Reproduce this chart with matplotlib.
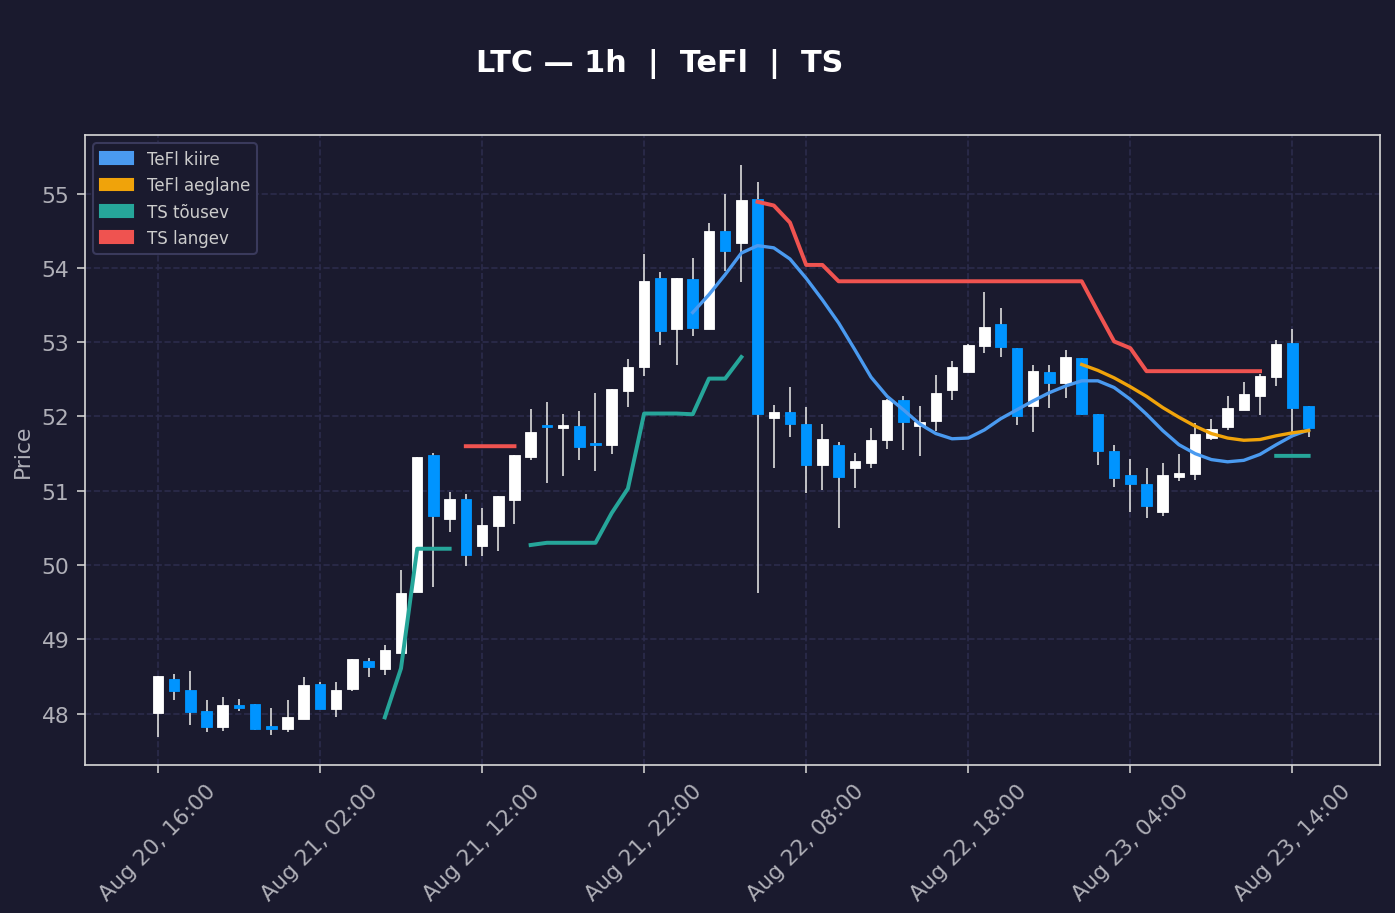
import numpy as np
import pandas as pd
import matplotlib
matplotlib.use("Agg")
import matplotlib.pyplot as plt
import matplotlib.dates as mdates
from matplotlib.patches import Patch

# hourly LTC candles, Aug 20 16:00 -> Aug 23 15:00
times = pd.date_range("2024-08-20 16:00", periods=72, freq="h")

opens = [48.01, 48.47, 48.32, 48.04, 47.82, 48.11, 48.13, 47.84, 47.79, 47.93,
         48.40, 48.06, 48.33, 48.71, 48.60, 48.82, 49.64, 51.48, 50.62, 50.89,
         50.26, 50.53, 50.88, 51.46, 51.88, 51.84, 51.87, 51.64, 51.62, 52.34,
         52.67, 53.86, 53.18, 53.85, 53.18, 54.50, 54.34, 54.93, 51.98, 52.06,
         51.90, 51.35, 51.62, 51.30, 51.38, 51.69, 52.22, 51.87, 51.94, 52.36,
         52.60, 52.95, 53.25, 52.92, 52.14, 52.60, 52.45, 52.79, 52.04, 51.54,
         51.21, 51.09, 50.72, 51.18, 51.22, 51.71, 51.86, 52.09, 52.27, 52.53,
         52.99, 52.14]
closes = [48.51, 48.31, 48.02, 47.82, 48.12, 48.07, 47.80, 47.79, 47.96, 48.38,
          48.06, 48.32, 48.73, 48.63, 48.86, 49.62, 51.46, 50.66, 50.89, 50.13,
          50.54, 50.93, 51.48, 51.79, 51.86, 51.89, 51.59, 51.62, 52.37, 52.67,
          53.82, 53.15, 53.86, 53.19, 54.50, 54.23, 54.91, 52.03, 52.06, 51.90,
          51.35, 51.70, 51.19, 51.40, 51.69, 52.22, 51.92, 51.92, 52.31, 52.66,
          52.96, 53.21, 52.94, 52.00, 52.61, 52.45, 52.80, 52.03, 51.53, 51.17,
          51.09, 50.79, 51.21, 51.24, 51.76, 51.83, 52.12, 52.30, 52.55, 52.98,
          52.12, 51.85]
highs = [48.51, 48.53, 48.57, 48.19, 48.23, 48.20, 48.13, 48.08, 48.19, 48.50,
         48.42, 48.43, 48.73, 48.75, 48.93, 49.93, 51.46, 51.51, 50.99, 50.96,
         50.77, 50.93, 51.48, 52.10, 52.20, 52.03, 52.08, 52.32, 52.37, 52.78,
         54.19, 53.94, 53.86, 54.13, 54.61, 55.00, 55.39, 55.16, 52.15, 52.40,
         52.13, 51.90, 51.66, 51.51, 51.85, 52.24, 52.27, 52.14, 52.56, 52.75,
         52.98, 53.68, 53.46, 52.92, 52.69, 52.69, 52.89, 52.79, 52.04, 51.61,
         51.43, 51.30, 51.37, 51.49, 51.91, 51.97, 52.28, 52.46, 52.57, 53.03,
         53.18, 52.14]
lows = [47.68, 48.19, 47.85, 47.76, 47.77, 48.03, 47.78, 47.71, 47.76, 47.93,
        48.06, 47.95, 48.31, 48.49, 48.52, 48.82, 49.64, 49.71, 50.44, 49.99,
        50.12, 50.19, 50.55, 51.42, 51.10, 51.20, 51.42, 51.26, 51.49, 52.13,
        52.54, 52.96, 52.69, 53.08, 53.18, 53.96, 53.81, 49.63, 51.30, 51.73,
        50.97, 51.01, 50.50, 51.04, 51.31, 51.56, 51.55, 51.47, 51.80, 52.22,
        52.60, 52.85, 52.80, 51.88, 51.79, 52.11, 52.25, 52.02, 51.35, 51.05,
        50.71, 50.63, 50.66, 51.13, 51.15, 51.69, 51.82, 52.09, 52.02, 52.41,
        51.74, 51.73]

nan = np.nan
tefl_fast = [nan] * 33 + [
    53.40, 53.64, 53.91, 54.20, 54.30, 54.27, 54.12, 53.86, 53.57, 53.26,
    52.90, 52.53, 52.27, 52.09, 51.90, 51.77, 51.70, 51.71, 51.82, 51.97,
    52.09, 52.21, 52.32, 52.41, 52.48, 52.48, 52.39, 52.23, 52.03, 51.81,
    51.62, 51.50, 51.42, 51.39, 51.41, 51.49, 51.62, 51.74, 51.82]
tefl_slow = [nan] * 57 + [
    52.70, 52.62, 52.52, 52.40, 52.27, 52.12, 51.99, 51.87, 51.77, 51.71,
    51.68, 51.69, 51.74, 51.78, 51.81]
ts_up = ([nan] * 14 + [47.95, 48.61, 50.22, 50.22, 50.22]
         + [nan] * 4
         + [50.27, 50.30, 50.30, 50.30, 50.30, 50.70, 51.03, 52.04, 52.04, 52.04,
            52.03, 52.51, 52.51, 52.80]
         + [nan] * 32 + [51.47, 51.47, 51.47])
ts_down = ([nan] * 19 + [51.60, 51.60, 51.60, 51.60] + [nan] * 14
           + [54.89, 54.84, 54.61, 54.04, 54.04] + [53.82] * 16
           + [53.41, 53.01, 52.92] + [52.61] * 8 + [nan] * 3)

BG = "#1a1a2e"
UP = "#ffffff"
DOWN = "#0094ff"
FAST = "#4a9af0"
SLOW = "#f0a30a"
TSUP = "#26a69a"
TSDN = "#ef5350"
TXT = "#b0b0b8"

fig = plt.figure(figsize=(9.3, 6.0933), dpi=150, facecolor=BG)
ax = fig.add_axes([0.0609, 0.1620, 0.9283, 0.6893], facecolor=BG)

x = mdates.date2num(times)
o = np.array(opens); c = np.array(closes)
h = np.array(highs); l = np.array(lows)
up = c >= o
colors = np.where(up, UP, DOWN)
w = 0.65 / 24

ax.vlines(x, l, h, colors="#dddddd", linewidth=0.8, zorder=2)
body_lo = np.minimum(o, c)
body_h = np.maximum(np.abs(c - o), 0.02)
ax.bar(x, body_h, bottom=body_lo, width=w, color=colors,
       edgecolor=colors, linewidth=0.4, zorder=3)

ax.plot(x, tefl_fast, color=FAST, lw=1.6, zorder=4)
ax.plot(x, tefl_slow, color=SLOW, lw=1.6, zorder=4)
ax.plot(x, ts_up, color=TSUP, lw=1.9, zorder=4)
ax.plot(x, ts_down, color=TSDN, lw=1.9, zorder=4)

ax.set_xlim(x[0] - 4.5 / 24, x[0] + 75.4 / 24)
ax.set_ylim(47.31, 55.79)
ax.set_xticks(x[::10])
ax.xaxis.set_major_formatter(mdates.DateFormatter("%b %d, %H:%M"))
plt.setp(ax.get_xticklabels(), rotation=45, ha="center")
ax.tick_params(colors=TXT, labelsize=10.5, length=4)
ax.tick_params(axis="both", color="#cccccc")
for s in ax.spines.values():
    s.set_color("#d8d8d8")
    s.set_linewidth(0.8)
ax.grid(True, color="#2c2c4c", linestyle="--", linewidth=0.8)
ax.set_axisbelow(True)
ax.set_ylabel("Price", color=TXT, fontsize=10.5)

handles = [Patch(color=FAST, label="TeFl kiire"),
           Patch(color=SLOW, label="TeFl aeglane"),
           Patch(color=TSUP, label="TS tõusev"),
           Patch(color=TSDN, label="TS langev")]
leg = ax.legend(handles=handles, loc="upper left", fontsize=8,
                facecolor=BG, edgecolor="#3a3a5c", labelcolor="#cccccc",
                framealpha=1.0)

fig.text(0.473, 0.930, "LTC — 1h  |  TeFl  |  TS", color="white",
         fontsize=14.5, fontweight="bold", ha="center", va="center")

fig.savefig("out.png", dpi=150, facecolor=BG)
